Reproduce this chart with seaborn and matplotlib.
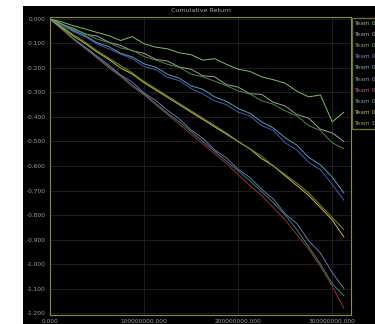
import numpy as np
import pandas as pd
import matplotlib
matplotlib.use('Agg')
import matplotlib.pyplot as plt
from matplotlib.patches import Rectangle
from matplotlib.ticker import FuncFormatter, MultipleLocator
import seaborn as sns

# x in units of 1e8 steps
steps = [0.0, 0.125, 0.25, 0.375, 0.5, 0.625, 0.75, 0.875, 1.0, 1.125, 1.25, 1.375, 1.5,
         1.625, 1.75, 1.875, 2.0, 2.125, 2.25, 2.375, 2.5, 2.625, 2.75, 2.875, 3.0, 3.125]
step_scale = 1e8

teams = ['Team 01', 'Team 02', 'Team 03', 'Team 04', 'Team 05',
         'Team 06', 'Team 07', 'Team 08', 'Team 09', 'Team 10']

team01 = [0, -0.012, -0.028, -0.041, -0.055, -0.068, -0.088, -0.072, -0.101, -0.115, -0.122, -0.138, -0.146,
          -0.168, -0.162, -0.185, -0.205, -0.214, -0.236, -0.248, -0.262, -0.295, -0.318, -0.31, -0.42, -0.38]
team02 = [0, -0.022, -0.038, -0.062, -0.07, -0.095, -0.108, -0.13, -0.14, -0.165, -0.172, -0.196, -0.205,
          -0.232, -0.236, -0.268, -0.278, -0.305, -0.308, -0.34, -0.355, -0.39, -0.405, -0.45, -0.465, -0.50]
team03 = [0, -0.02, -0.043, -0.06, -0.082, -0.096, -0.118, -0.128, -0.153, -0.168, -0.185, -0.198, -0.225,
          -0.236, -0.254, -0.272, -0.294, -0.306, -0.334, -0.348, -0.375, -0.396, -0.435, -0.455, -0.505, -0.53]
team04 = [0, -0.025, -0.052, -0.073, -0.102, -0.122, -0.143, -0.162, -0.194, -0.207, -0.238, -0.252, -0.284,
          -0.306, -0.334, -0.35, -0.38, -0.396, -0.435, -0.455, -0.505, -0.535, -0.585, -0.615, -0.675, -0.74]
team05 = [0, -0.02, -0.048, -0.068, -0.097, -0.113, -0.14, -0.155, -0.183, -0.197, -0.226, -0.242, -0.273,
          -0.287, -0.318, -0.336, -0.365, -0.385, -0.42, -0.445, -0.485, -0.515, -0.565, -0.595, -0.645, -0.71]
team06 = [0, -0.04, -0.08, -0.115, -0.152, -0.188, -0.228, -0.258, -0.302, -0.333, -0.373, -0.408, -0.453,
          -0.487, -0.534, -0.567, -0.613, -0.647, -0.695, -0.735, -0.795, -0.835, -0.905, -0.955, -1.035, -1.10]
team07 = [0, -0.042, -0.085, -0.12, -0.16, -0.2, -0.235, -0.275, -0.31, -0.35, -0.39, -0.43, -0.47,
          -0.51, -0.55, -0.59, -0.635, -0.68, -0.72, -0.77, -0.82, -0.88, -0.94, -1.01, -1.09, -1.18]
team08 = [0, -0.04, -0.08, -0.12, -0.155, -0.195, -0.23, -0.27, -0.305, -0.345, -0.385, -0.42, -0.46,
          -0.5, -0.54, -0.58, -0.62, -0.66, -0.705, -0.75, -0.8, -0.86, -0.93, -1.0, -1.08, -1.13]
team09 = [0, -0.035, -0.07, -0.1, -0.135, -0.165, -0.2, -0.225, -0.26, -0.29, -0.32, -0.35, -0.38,
          -0.41, -0.44, -0.47, -0.5, -0.53, -0.57, -0.6, -0.64, -0.68, -0.72, -0.77, -0.82, -0.89]
team10 = [0, -0.03, -0.065, -0.095, -0.13, -0.16, -0.19, -0.22, -0.255, -0.285, -0.315, -0.345, -0.375,
          -0.405, -0.435, -0.465, -0.5, -0.53, -0.56, -0.6, -0.635, -0.67, -0.71, -0.76, -0.81, -0.86]

colors = ['#7fc060', '#a0a0a0', '#4f8a3a', '#4a58b8', '#50a0b0',
          '#7070b0', '#a03030', '#308878', '#c8c030', '#7a8a30']

y_ticks = [0.0, -0.1, -0.2, -0.3, -0.4, -0.5, -0.6, -0.7, -0.8, -0.9, -1.0, -1.1, -1.2]
x_ticks = [0, 1, 2, 3]

series = [team01, team02, team03, team04, team05, team06, team07, team08, team09, team10]
frames = []
for name, vals in zip(teams, series):
    frames.append(pd.DataFrame({'step': steps, 'value': vals, 'team': name}))
df = pd.concat(frames, ignore_index=True)

sns.set_style('dark')
plt.rcParams['font.family'] = ['DejaVu Sans']

fig = plt.figure(figsize=(3.75, 3.24), dpi=100, facecolor='white')
# black panel behind the plot (white margin on left and top)
fig.patches.append(Rectangle((23 / 375, 0), 1 - 23 / 375, 1 - 6 / 324,
                             transform=fig.transFigure, facecolor='black',
                             edgecolor='none', zorder=-10))
ax = fig.add_axes([50 / 375, 1 - 315 / 324, 301 / 375, 298 / 324])
ax.set_facecolor('black')

sns.lineplot(data=df, x='step', y='value', hue='team', palette=colors,
             linewidth=0.7, ax=ax, legend=True)

ax.set_xlim(0, 3.2)
ax.set_ylim(-1.208, 0.008)
ax.set_xticks(x_ticks)
ax.set_yticks(y_ticks)
ax.xaxis.set_minor_locator(MultipleLocator(0.5))
ax.xaxis.set_major_formatter(FuncFormatter(lambda v, p: f'{v * step_scale:.3f}'))
ax.yaxis.set_major_formatter(FuncFormatter(lambda v, p: f'{v:.3f}'))
ax.set_xlabel('')
ax.set_ylabel('')

ax.grid(True, color='#222222', linewidth=0.6)
ax.tick_params(axis='both', colors='#8c8c3c', labelcolor='#a0a0a0', labelsize=4.2,
               direction='in', length=3, width=0.6, pad=3)
ax.tick_params(axis='x', which='minor', colors='#8c8c3c', direction='in', length=2, width=0.5)
for s in ax.spines.values():
    s.set_visible(True)
    s.set_color('#8c8c3c')
    s.set_linewidth(0.8)

fig.text(200.5 / 375, 1 - 10 / 324, 'Cumulative Return', color='#a8a8a8',
         fontsize=4.6, ha='center', va='center')

leg = ax.legend(loc='upper left', bbox_to_anchor=(1.0, 1.0), fontsize=4.2,
                frameon=True, facecolor='black', edgecolor='#8c8c3c',
                labelspacing=1.05, handlelength=0, handletextpad=0,
                borderpad=0.5, borderaxespad=0.1, fancybox=False)
for h in leg.legend_handles:
    h.set_visible(False)
for t, c in zip(leg.get_texts(), colors):
    t.set_color(sns.blend_palette(['#b0b0b0', c], 3)[1])

fig.savefig('out.png', dpi=100, facecolor=fig.get_facecolor())
